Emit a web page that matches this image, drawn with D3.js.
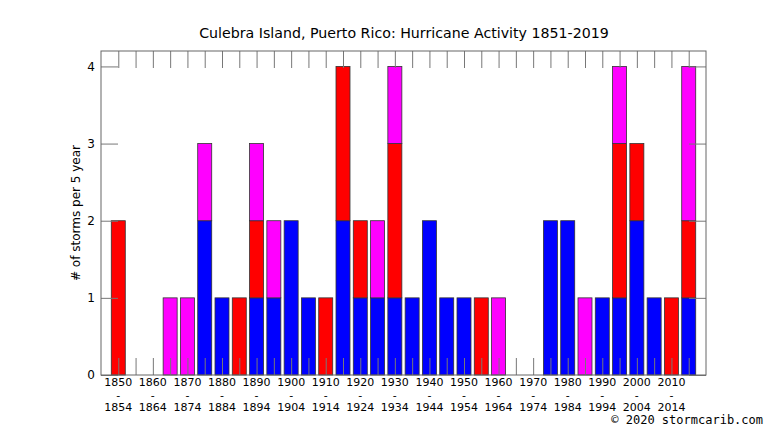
<!DOCTYPE html>
<html>
<head>
<meta charset="utf-8">
<script src="https://cdn.jsdelivr.net/npm/d3@7"></script>
<style>
  body { margin: 0; background: #fff; }
  svg text { font-family: "DejaVu Sans", sans-serif; fill: #000; }
</style>
</head>
<body>
<svg id="chart"></svg>
<script>
// 5-year bins, start year of each bin
const binStarts = d3.range(1850, 2020, 5);
// counts per bin (blue / red / magenta segments, bottom to top)
const tropicalStorms  = [0,0,0,0,0,2,1,0,1,1,2,1,0,2,1,1,1,1,2,1,1,0,0,0,0,2,2,0,1,1,2,1,0,1];
const hurricanes      = [2,0,0,0,0,0,0,1,1,0,0,0,1,2,1,0,2,0,0,0,0,1,0,0,0,0,0,0,0,2,1,0,1,1];
const majorHurricanes = [0,0,0,1,1,1,0,0,1,1,0,0,0,0,0,1,1,0,0,0,0,0,1,0,0,0,0,1,0,1,0,0,0,2];
const yTicks = [0, 1, 2, 3, 4];
const labelStarts = d3.range(1850, 2020, 10);

const titleText = "Culebra Island, Puerto Rico: Hurricane Activity 1851-2019",
      yLabel    = "# of storms per 5 year",
      credit    = "\u00a9 2020 stormcarib.com";

let width    = 766,
    height   = 431,
    plotL    = 101,
    plotR    = 706,
    plotT    = 51,
    plotB    = 375,
    tickLen  = 17,
    colors   = {ts: "#0000ff", hu: "#ff0000", mh: "#ff00ff"},

    rows     = binStarts.map((y, i) => ({year: y, ts: tropicalStorms[i], hu: hurricanes[i], mh: majorHurricanes[i]})),

    // bin start year -> bar centre; frame edges sit one bin outside
    xScale   = d3.scaleLinear()
                 .domain([1845, 2020])
                 .range([plotL, plotR]),

    yScale   = d3.scaleLinear()
                 .domain([0, 4.2])
                 .range([plotB, plotT]),

    step     = xScale(1855) - xScale(1850),
    barWidth = step * 0.81,

    stacked  = d3.stack().keys(["ts", "hu", "mh"])(rows),

    svg      = d3.select('#chart')
                 .attr('width', width)
                 .attr('height', height);

// bars
svg.append('g')
  .selectAll('g')
  .data(stacked)
  .join('g')
    .attr('fill', d => colors[d.key])
  .selectAll('rect')
  .data(d => d.filter(s => s[1] > s[0]))
  .join('rect')
    .attr('x', d => xScale(d.data.year) - barWidth / 2)
    .attr('width', barWidth)
    .attr('y', d => yScale(d[1]))
    .attr('height', d => yScale(d[0]) - yScale(d[1]))
    .attr('stroke', '#333')
    .attr('stroke-width', 0.8);

// mirrored ticks on all four sides
function tickAxis(axis) {
  return g => {
    g.call(axis);
    g.select('.domain').remove();
    g.selectAll('line').attr('stroke', '#777');
  };
}

svg.append('g')
  .attr('transform', `translate(0,${plotB})`)
  .call(tickAxis(d3.axisBottom(xScale).tickValues(binStarts).tickSize(-tickLen).tickFormat('')));

svg.append('g')
  .attr('transform', `translate(0,${plotT})`)
  .call(tickAxis(d3.axisTop(xScale).tickValues(binStarts).tickSize(-tickLen).tickFormat('')));

svg.append('g')
  .attr('transform', `translate(${plotL},0)`)
  .call(tickAxis(d3.axisLeft(yScale).tickValues(yTicks).tickSize(-tickLen).tickPadding(6).tickFormat(d3.format('d'))))
  .selectAll('text')
    .style('font-family', '"DejaVu Sans", sans-serif')
    .style('font-size', '12px')
    .attr('fill', '#000');

svg.append('g')
  .attr('transform', `translate(${plotR},0)`)
  .call(tickAxis(d3.axisRight(yScale).tickValues(yTicks).tickSize(-tickLen).tickFormat('')));

// frame
svg.append('rect')
  .attr('x', plotL)
  .attr('y', plotT)
  .attr('width', plotR - plotL)
  .attr('height', plotB - plotT)
  .attr('fill', 'none')
  .attr('stroke', '#666')
  .attr('stroke-width', 1);

// x labels: "1850 / - / 1854", one text per line
let rowsOfLabels = [d => String(d), () => '-', d => String(d + 4)];
rowsOfLabels.forEach((fmt, k) => {
  svg.append('g')
    .selectAll('text')
    .data(labelStarts)
    .join('text')
      .attr('x', d => xScale(d))
      .attr('y', 386 + k * 12.5)
      .attr('text-anchor', 'middle')
      .style('font-size', '11px')
      .text(fmt);
});

// title
svg.append('text')
  .attr('x', 404)
  .attr('y', 38)
  .attr('text-anchor', 'middle')
  .style('font-size', '14.2px')
  .text(titleText);

// y label
svg.append('text')
  .attr('transform', `translate(80,${(plotT + plotB) / 2}) rotate(-90)`)
  .attr('text-anchor', 'middle')
  .style('font-size', '12px')
  .text(yLabel);

// credit
svg.append('text')
  .attr('x', 763)
  .attr('y', 424)
  .attr('text-anchor', 'end')
  .style('font-family', '"DejaVu Sans Mono", monospace')
  .style('font-size', '12px')
  .text(credit);
</script>
</body>
</html>
